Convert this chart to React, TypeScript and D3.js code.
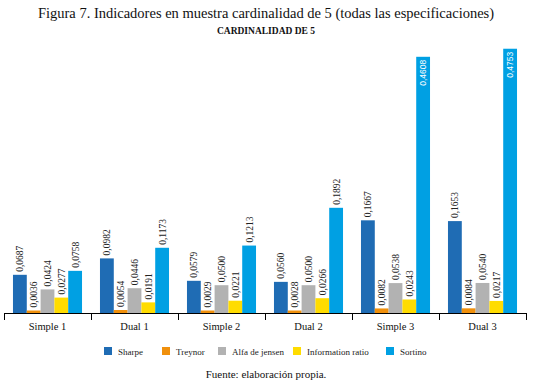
import React from "react";
import * as d3 from "d3";

const categories = ["Simple 1", "Dual 1", "Simple 2", "Dual 2", "Simple 3", "Dual 3"];
const seriesNames = ["Sharpe", "Treynor", "Alfa de jensen", "Information ratio", "Sortino"];
const sharpe = [0.0687, 0.0982, 0.0579, 0.056, 0.1667, 0.1653];
const treynor = [0.0036, 0.0054, 0.0029, 0.0028, 0.0082, 0.0084];
const alfa = [0.0424, 0.0446, 0.05, 0.05, 0.0538, 0.054];
const infoRatio = [0.0277, 0.0191, 0.0221, 0.0266, 0.0243, 0.0217];
const sortino = [0.0758, 0.1173, 0.1213, 0.1892, 0.4608, 0.4753];
const colors = ["#1f6cb4", "#f0900c", "#b2b2b2", "#ffdc00", "#00a0e3"];

const series = [sharpe, treynor, alfa, infoRatio, sortino];

const W = 533;
const H = 384;
const baseY = 313;
const left = 4;
const right = 526;
const SERIF = "'Liberation Serif', 'Times New Roman', serif";
const SANS = "'Liberation Sans', Arial, sans-serif";

export default function App() {
  const x0 = d3.scaleBand<string>().domain(categories).range([left, right]).paddingInner(0).paddingOuter(0);
  const x1 = d3.scaleBand<string>().domain(seriesNames).range([0, x0.bandwidth()]).paddingOuter(0.65).paddingInner(0);
  const y = d3.scaleLinear().domain([0, 0.5]).range([baseY, baseY - 0.5 * 556]);
  const fmt = (v: number) => d3.format(".4f")(v).replace(".", ",");

  const legendX = [104, 162, 218, 293, 386];

  return (
    <svg width={W} height={H} style={{ position: "absolute", left: 0, top: 0, fontFamily: SERIF }}>
      <rect width={W} height={H} fill="#fff" />
      <text x={266} y={18} textAnchor="middle" fontFamily={SERIF} fontSize={14.5} fill="#111">
        Figura 7. Indicadores en muestra cardinalidad de 5 (todas las especificaciones)
      </text>
      <text x={266} y={34} textAnchor="middle" fontFamily={SERIF} fontWeight="bold" fontSize={9.5} fill="#111">
        CARDINALIDAD DE 5
      </text>
      {categories.map((c, ci) => (
        <g key={c} transform={`translate(${x0(c)},0)`}>
          {series.map((s, si) => {
            const v = s[ci];
            const bx = x1(seriesNames[si])!;
            const bw = x1.bandwidth();
            const top = y(v);
            const h = Math.max(baseY - top, 2.5);
            const inside = v > 0.4;
            const cx = bx + bw / 2;
            return (
              <g key={si}>
                <rect x={bx} y={baseY - h} width={bw} height={h} fill={colors[si]} />
                {inside ? (
                  <text
                    transform={`translate(${cx + 3},${top + 3}) rotate(-90)`}
                    textAnchor="end"
                    fontFamily={SANS}
                    fontSize={8.5}
                    fill="#fff"
                  >
                    {fmt(v)}
                  </text>
                ) : (
                  <text
                    transform={`translate(${cx + 3.5},${baseY - h - 3}) rotate(-90)`}
                    textAnchor="start"
                    fontFamily={SERIF}
                    fontSize={9.5}
                    fill="#222"
                  >
                    {fmt(v)}
                  </text>
                )}
              </g>
            );
          })}
          <text x={x0.bandwidth() / 2} y={330} textAnchor="middle" fontFamily={SERIF} fontSize={10.5} fill="#111">
            {c}
          </text>
        </g>
      ))}
      <line x1={left} x2={right} y1={baseY + 0.5} y2={baseY + 0.5} stroke="#000" strokeWidth={1} />
      {d3.range(categories.length + 1).map((i) => {
        const tx = Math.round(left + i * x0.bandwidth()) + 0.5;
        return <line key={i} x1={tx} x2={tx} y1={baseY} y2={baseY + 7} stroke="#000" strokeWidth={1} />;
      })}
      {seriesNames.map((n, i) => (
        <g key={n}>
          <rect x={legendX[i]} y={347} width={8} height={8} fill={colors[i]} />
          <text x={legendX[i] + 14} y={354.5} fontFamily={SERIF} fontSize={9} fill="#222">
            {n}
          </text>
        </g>
      ))}
      <text x={266} y={378} textAnchor="middle" fontFamily={SERIF} fontSize={11} fill="#111">
        Fuente: elaboración propia.
      </text>
    </svg>
  );
}
